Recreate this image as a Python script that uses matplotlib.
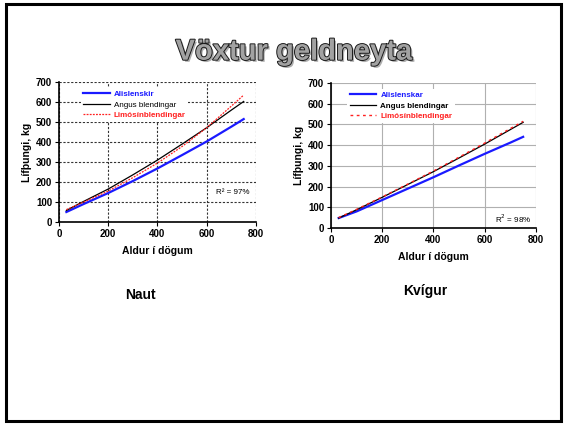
import matplotlib
matplotlib.use("Agg")
import matplotlib.pyplot as plt
import matplotlib.patheffects as pe
from matplotlib.patches import Rectangle

plt.rcParams['font.family'] = ['Liberation Sans', 'DejaVu Sans']

# aldur (dagar)
age = [30, 100, 200, 300, 400, 500, 600, 700, 750]

# Naut
naut_isl = [50, 90, 145, 205, 268, 335, 403, 477, 515]
naut_angus = [58, 103, 165, 236, 310, 390, 472, 560, 603]
naut_limo = [62, 100, 155, 222, 295, 378, 472, 580, 635]

# Kvígur
kvig_isl = [48, 80, 135, 190, 245, 302, 358, 412, 440]
kvig_angus = [48, 88, 148, 210, 272, 338, 405, 475, 510]
kvig_limo = [50, 90, 150, 212, 275, 342, 410, 480, 515]

labels_naut = ["Alislenskir", "Angus blendingar", "Limósínblendingar"]
labels_kvig = ["Alislenskar", "Angus blendingar", "Limósínblendingar"]

fig = plt.figure(figsize=(5.65, 4.24), dpi=100)
fig.patches.append(Rectangle((0.011, 0.006), 0.982, 0.984, transform=fig.transFigure,
                             fill=False, edgecolor="black", linewidth=2.2))

# titill
fig.text(0.52, 0.878, "Vöxtur geldneyta", ha="center", va="center",
         fontsize=21, fontweight="bold", color="#a2a2a2",
         path_effects=[pe.SimplePatchShadow(offset=(1.5, -1.5), shadow_rgbFace="#777777", alpha=0.6),
                       pe.Stroke(linewidth=1.4, foreground="#1a1a1a"), pe.Normal()])


def setup(ax, grid_style, grid_color):
    ax.set_xlim(0, 800)
    ax.set_ylim(0, 700)
    ax.set_xticks([0, 200, 400, 600, 800])
    ax.set_yticks(range(0, 701, 100))
    ax.grid(True, linestyle=grid_style, color=grid_color, linewidth=0.8)
    ax.set_axisbelow(True)
    for s in ["top", "right"]:
        ax.spines[s].set_visible(False)
    for s in ["left", "bottom"]:
        ax.spines[s].set_linewidth(1.2)
    ax.tick_params(labelsize=7, length=3, width=0.8, pad=2)
    for t in ax.get_xticklabels() + ax.get_yticklabels():
        t.set_fontweight("bold")
    ax.set_xlabel("Aldur í dögum", fontsize=7.5, fontweight="bold", labelpad=5)
    ax.set_ylabel("Lífþungi, kg", fontsize=7.5, fontweight="bold", labelpad=3)


def legend(ax, weights, x0):
    leg = ax.legend(loc="upper left", bbox_to_anchor=(x0, 0.985), frameon=True,
                    fontsize=5.8, handlelength=3.3, handletextpad=0.5, labelspacing=0.35,
                    borderpad=0.3, fancybox=False, edgecolor="none", facecolor="white",
                    framealpha=1)
    for txt, c, w in zip(leg.get_texts(), ["#1a1aff", "black", "#ff2020"], weights):
        txt.set_color(c)
        txt.set_fontweight(w)


ax1 = fig.add_axes([0.1044, 0.4764, 0.3487, 0.330])
ax1.plot(age, naut_isl, color="#1a1aff", linewidth=1.6, label=labels_naut[0])
ax1.plot(age, naut_angus, color="black", linewidth=0.9, label=labels_naut[1])
ax1.plot(age, naut_limo, color="#ff2020", linewidth=0.9, linestyle=(0, (1.5, 1)), label=labels_naut[2])
setup(ax1, (0, (2, 1.5)), "#333333")
legend(ax1, ["bold", "normal", "bold"], 0.09)
ax1.text(706, 150, "R² = 97%", fontsize=5.8, ha="center", va="center")

ax2 = fig.add_axes([0.5858, 0.4623, 0.3628, 0.342])
ax2.plot(age, kvig_isl, color="#1a1aff", linewidth=1.6, label=labels_kvig[0])
ax2.plot(age, kvig_angus, color="black", linewidth=0.9, label=labels_kvig[1])
ax2.plot(age, kvig_limo, color="#ff2020", linewidth=1.0, linestyle=(0, (2, 2.5)), label=labels_kvig[2])
setup(ax2, "-", "#b0b0b0")
legend(ax2, ["bold", "bold", "bold"], 0.06)
ax2.text(710, 45, "R$^2$ = 98%", fontsize=5.8, ha="center", va="center")

fig.text(0.248, 0.305, "Naut", ha="center", va="center", fontsize=10,
         fontweight="bold")
fig.text(0.753, 0.313, "Kvígur", ha="center", va="center", fontsize=10,
         fontweight="bold")

fig.savefig("out.png", dpi=100)
